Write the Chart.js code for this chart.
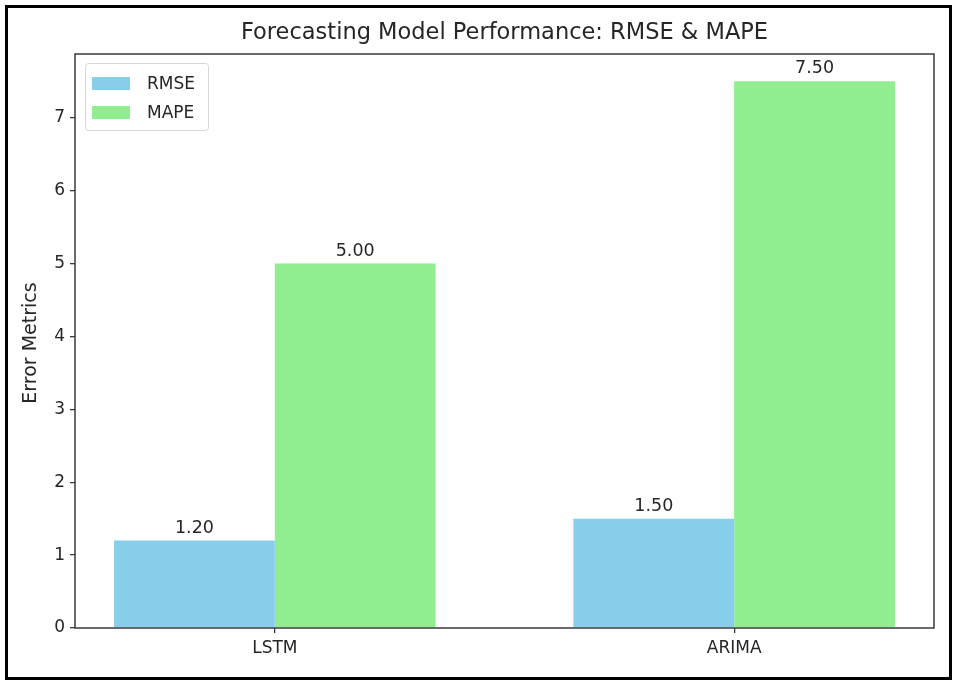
<!DOCTYPE html>
<html><head><meta charset="utf-8">
<script src="https://cdn.jsdelivr.net/npm/chart.js@4.4.0/dist/chart.umd.min.js"></script>
<style>html,body{margin:0;padding:0;background:#fff;}#wrap{width:958px;height:684px;position:relative;}</style>
</head><body><div id="wrap"><canvas id="c" width="958" height="684"></canvas></div>
<script>
const categories = ['LSTM', 'ARIMA'];
const seriesNames = ['RMSE', 'MAPE'];
const rmseValues = [1.20, 1.50];
const mapeValues = [5.00, 7.50];
const yTicks = [0, 1, 2, 3, 4, 5, 6, 7];
const titleText = 'Forecasting Model Performance: RMSE & MAPE';
const yAxisTitle = 'Error Metrics';
const seriesColors = ['#87CEEB', '#90EE90'];

const FONT = "'DejaVu Sans', sans-serif";
const TXT = '#262626';

const decorPlugin = {
  id: 'decor',
  afterDraw(chart) {
    const ctx = chart.ctx;
    const ca = chart.chartArea;
    ctx.save();
    // plot frame
    ctx.strokeStyle = '#3a3a3a';
    ctx.lineWidth = 1.5;
    ctx.strokeRect(ca.left, ca.top, ca.right - ca.left, ca.bottom - ca.top);
    // title
    ctx.fillStyle = TXT;
    ctx.font = '22.5px ' + FONT;
    ctx.textAlign = 'center';
    ctx.textBaseline = 'middle';
    ctx.fillText(titleText, (ca.left + ca.right) / 2, 33);
    // y axis title
    ctx.save();
    ctx.translate(31, (ca.top + ca.bottom) / 2 + 2);
    ctx.rotate(-Math.PI / 2);
    ctx.font = '19px ' + FONT;
    ctx.fillText(yAxisTitle, 0, 0);
    ctx.restore();
    // value labels
    ctx.font = '17.5px ' + FONT;
    ctx.textAlign = 'center';
    ctx.textBaseline = 'alphabetic';
    chart.data.datasets.forEach((ds, di) => {
      const meta = chart.getDatasetMeta(di);
      meta.data.forEach((bar, i) => {
        ctx.fillText(ds.data[i].y.toFixed(2), bar.x, bar.y - 8);
      });
    });
    // legend
    const lx = 85.5, ly = 63.5, lw = 123, lh = 67;
    ctx.fillStyle = 'rgba(255,255,255,0.8)';
    ctx.strokeStyle = '#d6d6d6';
    ctx.lineWidth = 1;
    ctx.beginPath();
    ctx.roundRect(lx, ly, lw, lh, 3);
    ctx.fill();
    ctx.stroke();
    ctx.font = '17px ' + FONT;
    ctx.textAlign = 'left';
    ctx.textBaseline = 'middle';
    chart.data.datasets.forEach((ds, di) => {
      const cy = 83.5 + di * 29;
      ctx.fillStyle = ds.backgroundColor;
      ctx.fillRect(92, cy - 6.5, 38, 13);
      ctx.fillStyle = TXT;
      ctx.fillText(ds.label, 147, cy + 1);
    });
    // outer border
    ctx.strokeStyle = '#000';
    ctx.lineWidth = 3;
    ctx.strokeRect(6.5, 6.5, 944, 672);
    ctx.restore();
  }
};

const datasets = [rmseValues, mapeValues].map((vals, si) => ({
  label: seriesNames[si],
  data: categories.map((c, i) => ({ x: i, y: vals[i] })),
  backgroundColor: seriesColors[si],
  borderWidth: 0,
  categoryPercentage: 0.7,
  barPercentage: 1.0
}));

new Chart(document.getElementById('c'), {
  type: 'bar',
  data: { datasets },
  options: {
    responsive: false,
    animation: false,
    devicePixelRatio: 1,
    layout: { padding: { top: 54, right: 24, left: 0, bottom: 0 } },
    plugins: { legend: { display: false }, title: { display: false }, tooltip: { enabled: false } },
    scales: {
      x: {
        type: 'linear',
        offset: false,
        min: -0.435,
        max: 1.435,
        afterBuildTicks: s => { s.ticks = categories.map((c, i) => ({ value: i })); },
        afterFit: s => { s.height = 56; },
        grid: { offset: false, drawOnChartArea: false, drawTicks: true, tickLength: 5, color: '#3a3a3a', lineWidth: 1.3 },
        border: { display: false },
        ticks: {
          autoSkip: false,
          maxRotation: 0,
          padding: 5,
          color: TXT,
          font: { family: FONT, size: 17 },
          callback: v => categories[Math.round(v)]
        }
      },
      y: {
        type: 'linear',
        min: 0,
        max: 7.875,
        afterBuildTicks: s => { s.ticks = yTicks.map(v => ({ value: v })); },
        afterFit: s => { s.width = 75; },
        grid: { drawOnChartArea: false, drawTicks: true, tickLength: 5, color: '#3a3a3a', lineWidth: 1.3 },
        border: { display: false },
        ticks: {
          padding: 5,
          color: TXT,
          font: { family: FONT, size: 17 },
          callback: v => String(v)
        }
      }
    }
  },
  plugins: [decorPlugin]
});
</script>
</body></html>
